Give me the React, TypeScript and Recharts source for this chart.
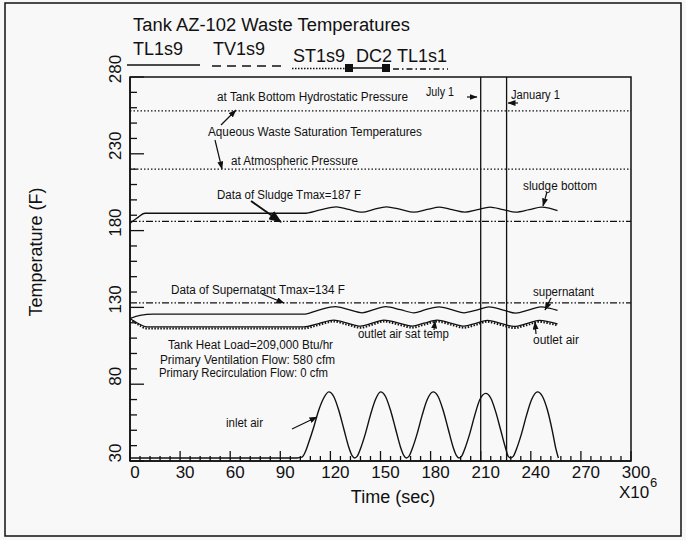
import React from 'react';
import { LineChart, Line, XAxis, YAxis, ReferenceLine, ReferenceArea } from 'recharts';

const FONT = '"Liberation Sans", Arial, Helvetica, sans-serif';
const INK = '#111';

// Axis ticks
const xTicks = [0, 6, 12, 18, 24, 30, 36, 42, 48, 54, 60, 66, 72, 78, 84, 90, 96, 102, 108, 114, 120, 126, 132, 138, 144, 150, 156, 162, 168, 174, 180, 186, 192, 198, 204, 210, 216, 222, 228, 234, 240, 246, 252, 258, 264, 270, 276, 282, 288, 294, 300];
const xMajor = [0, 30, 60, 90, 120, 150, 180, 210, 240, 270, 300];
const yTicks = [30, 40, 50, 60, 70, 80, 90, 100, 110, 120, 130, 140, 150, 160, 170, 180, 190, 200, 210, 220, 230, 240, 250, 260, 270, 280];
const yMajor = [30, 80, 130, 180, 230, 280];

// Reference levels (F) and dates (x 1e6 sec)
const hydrostaticSat = 258;
const atmosphericSat = 220;
const sludgeTmax = 186;
const supernatantTmax = 133;
const july1 = 210;
const january1 = 225.5;

// Series: time (x 1e6 sec) and temperature (F)
const sludgeTime = [0, 4, 9, 104, 114, 123.5, 131, 139, 146, 153.5, 162, 170, 178, 185.5, 193, 200.5, 208, 215.5, 223.5, 231, 239, 246.5, 251, 256];
const sludgeTemp = [184.8, 188, 191.3, 191.3, 193.5, 195.5, 193.8, 192, 193.8, 195.5, 193.8, 192, 193.8, 195.3, 193.6, 192, 193.6, 195.3, 193.6, 192, 193.6, 195.3, 194.6, 193];

const supernatantTime = [0, 6, 14, 104, 113, 123, 131, 139, 146, 153, 162, 170, 177, 185, 193, 200, 208, 215, 223, 231, 239, 246, 251, 256];
const supernatantTemp = [122.8, 124.8, 125.6, 125.6, 128.3, 130.5, 128.5, 126.5, 128.5, 130.5, 128.5, 126.5, 128.5, 130.3, 128.4, 126.5, 128.4, 130.3, 128.4, 126.3, 128.4, 130.3, 129.5, 128];

const outletTime = [0, 5, 10, 104, 113, 122, 130, 138, 145, 152, 161, 169, 176, 184, 192, 200, 207, 214, 222, 230, 238, 245, 251, 256];
const outletTemp = [122.8, 119.5, 117.3, 117.3, 119.5, 121.7, 119.8, 117.8, 119.7, 121.7, 119.8, 117.8, 119.7, 121.7, 119.8, 117.8, 119.6, 121.5, 119.6, 117.6, 119.6, 121.5, 120.6, 119.3];
const outletSatTemp = [122.5, 118.8, 116.3, 116.3, 118.6, 120.8, 118.8, 116.8, 118.7, 120.8, 118.8, 116.8, 118.7, 120.8, 118.8, 116.8, 118.6, 120.6, 118.6, 116.6, 118.6, 120.6, 119.6, 118.3];

const inletTime = [0, 20, 40, 60, 80, 100, 103, 105, 107, 110, 113, 116, 119, 122, 125, 128, 131, 133, 134.5, 136, 138, 141, 144, 147, 150, 153, 156, 159, 162, 164, 165.5, 167, 169, 172, 175, 178, 181.5, 184.5, 187.5, 190.5, 193.5, 195.5, 197, 198.5, 200.5, 203.5, 206.5, 209.5, 213, 216, 219, 222, 225, 226.5, 228, 229.5, 231.5, 234.5, 237.5, 240.5, 244, 247, 250, 253, 255, 256.5];
const inletTemp = [32, 32, 32, 32, 32, 32, 32.5, 36, 42, 52, 63, 71, 75, 72, 63, 51, 39, 33.5, 32, 33, 38, 48, 60, 70, 75, 72, 63, 51, 39, 33.5, 32, 33, 38, 48, 60, 70, 75, 72, 63, 51, 39, 33.5, 32, 33, 38, 48, 60, 70, 74, 71, 62, 50, 38, 33, 32, 33, 38, 48, 60, 70, 75, 72, 63, 49, 38, 32];

const zip = (t: number[], v: number[]) => t.map((tt, i) => ({ t: tt, v: v[i] }));
const sludgeData = zip(sludgeTime, sludgeTemp);
const supernatantData = zip(supernatantTime, supernatantTemp);
const outletData = zip(outletTime, outletTemp);
const outletSatData = zip(outletTime, outletSatTemp);
const inletData = zip(inletTime, inletTemp);

const XTick = (props: any) => {
  const { x, y, payload } = props;
  const v = payload.value;
  const major = xMajor.includes(v);
  return (
    <g>
      <line x1={x} x2={x} y1={y} y2={y - (major ? 10 : 5)} stroke={INK} strokeWidth={1.3} />
      {major && (
        <text x={x + 5} y={y + 17} textAnchor="middle" fontSize={17} fontFamily={FONT} fill={INK}>
          {v}
        </text>
      )}
    </g>
  );
};

const YTick = (props: any) => {
  const { x, y, payload } = props;
  const v = payload.value;
  const major = yMajor.includes(v);
  return (
    <g>
      <line x1={x} x2={x + (major ? 14 : 7)} y1={y} y2={y} stroke={INK} strokeWidth={1.3} />
      {major && (
        <text
          transform={`translate(${x - 15},${y - 8}) rotate(-90)`}
          textAnchor="middle"
          dominantBaseline="central"
          fontSize={17}
          fontFamily={FONT}
          fill={INK}
        >
          {v}
        </text>
      )}
    </g>
  );
};

type Note = { text: string; x: number; y: number; w: number; size?: number };
const notes: Note[] = [
  { text: 'July 1', x: 426, y: 96, w: 28 },
  { text: 'January 1', x: 511, y: 99, w: 49 },
  { text: 'at Tank Bottom Hydrostatic Pressure', x: 217, y: 101, w: 191 },
  { text: 'Aqueous Waste Saturation Temperatures', x: 208, y: 136, w: 214 },
  { text: 'at Atmospheric Pressure', x: 231, y: 165, w: 127 },
  { text: 'sludge bottom', x: 523, y: 190, w: 74 },
  { text: 'Data of Sludge Tmax=187 F', x: 217, y: 199, w: 144 },
  { text: 'Data of Supernatant Tmax=134 F', x: 171, y: 294, w: 174 },
  { text: 'supernatant', x: 533, y: 296, w: 61 },
  { text: 'outlet air sat temp', x: 358, y: 338, w: 91 },
  { text: 'outlet air', x: 533, y: 344, w: 46 },
  { text: 'Tank Heat Load=209,000 Btu/hr', x: 168, y: 349, w: 165 },
  { text: 'Primary Ventilation Flow: 580 cfm', x: 160, y: 364, w: 175 },
  { text: 'Primary Recirculation Flow: 0 cfm', x: 159, y: 377, w: 169 },
  { text: 'inlet air', x: 226, y: 427, w: 37 },
];

type Arrow = { x1: number; y1: number; x2: number; y2: number; big?: boolean };
const arrows: Arrow[] = [
  { x1: 221, y1: 125, x2: 236, y2: 110 },
  { x1: 215, y1: 140, x2: 222, y2: 169 },
  { x1: 251, y1: 201, x2: 281, y2: 222, big: true },
  { x1: 262, y1: 294, x2: 284, y2: 303 },
  { x1: 547, y1: 192, x2: 543, y2: 206 },
  { x1: 551, y1: 298, x2: 545, y2: 310 },
  { x1: 434, y1: 330, x2: 435, y2: 321 },
  { x1: 536, y1: 334, x2: 535, y2: 322 },
  { x1: 292, y1: 429, x2: 317, y2: 417 },
  { x1: 467, y1: 97, x2: 477, y2: 97 },
  { x1: 518, y1: 103, x2: 508, y2: 103 },
];

export default function App() {
  return (
    <div style={{ position: 'absolute', left: 0, top: 0, width: 686, height: 540, background: '#f8f8f8', fontFamily: FONT }}>
      <LineChart width={686} height={540} margin={{ top: 77, right: 55, bottom: 49, left: 70 }}>
        <XAxis
          dataKey="t"
          type="number"
          domain={[0, 300]}
          ticks={xTicks}
          interval={0}
          tick={<XTick />}
          tickLine={false}
          tickSize={0}
          tickMargin={0}
          height={30}
          axisLine={{ stroke: INK, strokeWidth: 1.5 }}
          allowDataOverflow
        />
        <YAxis
          type="number"
          domain={[30, 280]}
          ticks={yTicks}
          interval={0}
          tick={<YTick />}
          tickLine={false}
          tickSize={0}
          tickMargin={0}
          width={60}
          axisLine={{ stroke: INK, strokeWidth: 1.5 }}
          allowDataOverflow
        />
        <ReferenceArea x1={0} x2={300} y1={30} y2={280} fill="none" stroke={INK} strokeWidth={1.5} ifOverflow="visible" />
        <ReferenceLine y={hydrostaticSat} stroke={INK} strokeWidth={1.3} strokeDasharray="1.5 2" />
        <ReferenceLine y={atmosphericSat} stroke={INK} strokeWidth={1.3} strokeDasharray="1.5 2" />
        <ReferenceLine y={sludgeTmax} stroke={INK} strokeWidth={1.3} strokeDasharray="7 2 1.5 2 1.5 2" />
        <ReferenceLine y={supernatantTmax} stroke={INK} strokeWidth={1.3} strokeDasharray="7 2 1.5 2 1.5 2" />
        <ReferenceLine x={july1} stroke={INK} strokeWidth={1.3} />
        <ReferenceLine x={january1} stroke={INK} strokeWidth={1.3} />
        <Line data={sludgeData} dataKey="v" type="monotone" stroke={INK} strokeWidth={1.3} dot={false} isAnimationActive={false} />
        <Line data={supernatantData} dataKey="v" type="monotone" stroke={INK} strokeWidth={1.3} dot={false} isAnimationActive={false} />
        <Line data={outletData} dataKey="v" type="monotone" stroke={INK} strokeWidth={1.3} dot={false} isAnimationActive={false} />
        <Line data={outletSatData} dataKey="v" type="monotone" stroke={INK} strokeWidth={2} strokeDasharray="1.5 1.5" dot={false} isAnimationActive={false} />
        <Line data={inletData} dataKey="v" type="monotone" stroke={INK} strokeWidth={1.4} dot={false} isAnimationActive={false} />
      </LineChart>
      <svg width={686} height={540} style={{ position: 'absolute', left: 0, top: 0, pointerEvents: 'none' }}>
        <defs>
          <marker id="ah" markerWidth="8" markerHeight="6" refX="7.5" refY="3" orient="auto" markerUnits="userSpaceOnUse">
            <path d="M0,0 L8,3 L0,6 z" fill={INK} />
          </marker>
          <marker id="ahBig" markerWidth="13" markerHeight="10" refX="12" refY="5" orient="auto" markerUnits="userSpaceOnUse">
            <path d="M0,0 L13,5 L0,10 z" fill={INK} />
          </marker>
        </defs>
        <rect x={5} y={3} width={676} height={533} fill="none" stroke={INK} strokeWidth={1.5} />
        <text x={133} y={31} fontSize={18} fontFamily={FONT} fill={INK} textLength={277} lengthAdjust="spacingAndGlyphs">
          Tank AZ-102 Waste Temperatures
        </text>
        <text x={133} y={55} fontSize={18} fontFamily={FONT} fill={INK}>TL1s9</text>
        <text x={213} y={55} fontSize={18} fontFamily={FONT} fill={INK}>TV1s9</text>
        <text x={293} y={62} fontSize={18} fontFamily={FONT} fill={INK}>ST1s9</text>
        <text x={356} y={62} fontSize={18} fontFamily={FONT} fill={INK}>DC2</text>
        <text x={397} y={62} fontSize={18} fontFamily={FONT} fill={INK}>TL1s1</text>
        <line x1={127} y1={65} x2={200} y2={65} stroke={INK} strokeWidth={1.3} />
        <line x1={212} y1={66} x2={283} y2={66} stroke={INK} strokeWidth={1.3} strokeDasharray="9 6" />
        <line x1={292} y1={68.5} x2={345} y2={68.5} stroke={INK} strokeWidth={1.3} strokeDasharray="1.5 1.5" />
        <line x1={350} y1={68} x2={386} y2={68} stroke={INK} strokeWidth={1.3} />
        <rect x={345} y={64} width={8} height={8} fill={INK} />
        <rect x={382} y={64} width={8} height={8} fill={INK} />
        <line x1={393} y1={69} x2={448} y2={69} stroke={INK} strokeWidth={1.3} strokeDasharray="6 3 1.5 3" />
        {notes.map((n, i) => (
          <text key={i} x={n.x} y={n.y} fontSize={n.size ?? 12} fontFamily={FONT} fill={INK} textLength={n.w} lengthAdjust="spacingAndGlyphs">
            {n.text}
          </text>
        ))}
        {arrows.map((a, i) => (
          <line
            key={i}
            x1={a.x1}
            y1={a.y1}
            x2={a.x2}
            y2={a.y2}
            stroke={INK}
            strokeWidth={a.big ? 2 : 1.2}
            markerEnd={a.big ? 'url(#ahBig)' : 'url(#ah)'}
          />
        ))}
        <text transform="translate(42,252) rotate(-90)" textAnchor="middle" fontSize={18} fontFamily={FONT} fill={INK}>
          Temperature (F)
        </text>
        <text x={393} y={503} textAnchor="middle" fontSize={18} fontFamily={FONT} fill={INK}>
          Time (sec)
        </text>
        <text x={619} y={498} fontSize={17} fontFamily={FONT} fill={INK}>X10</text>
        <text x={650} y={487} fontSize={13} fontFamily={FONT} fill={INK}>6</text>
      </svg>
    </div>
  );
}
